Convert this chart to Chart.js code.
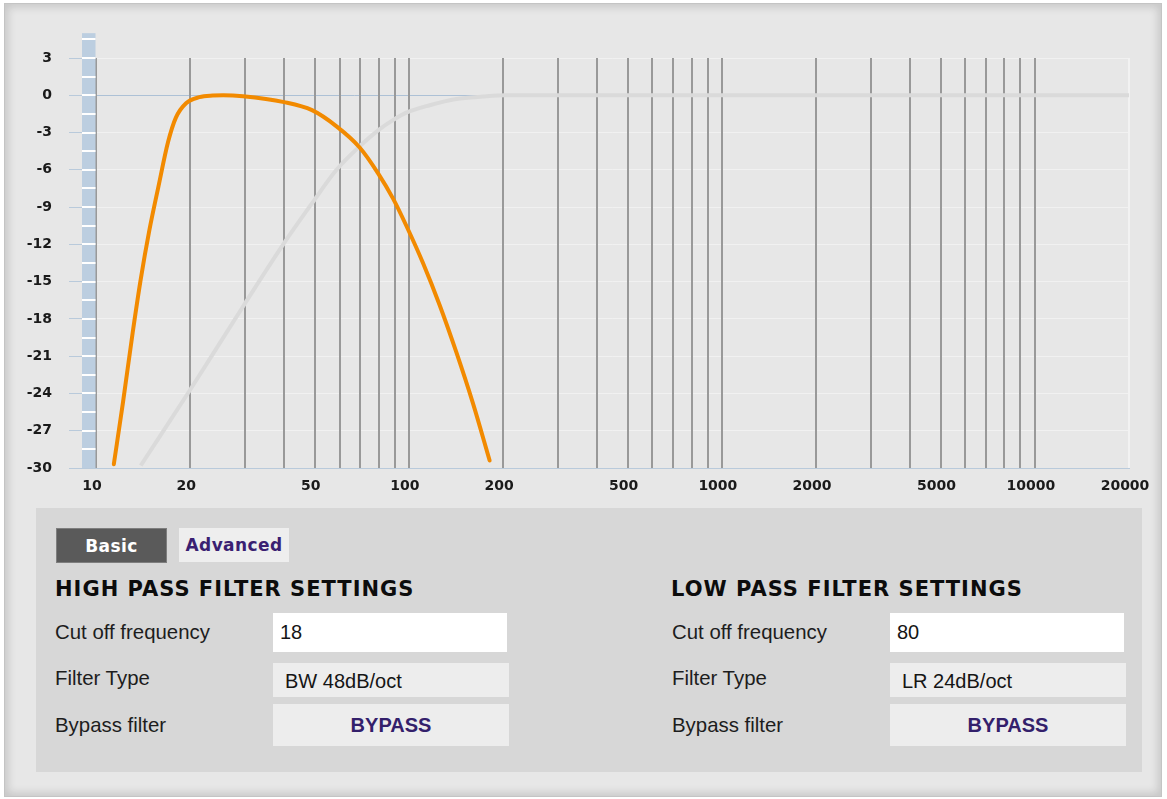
<!DOCTYPE html>
<html>
<head>
<meta charset="utf-8">
<script src="https://cdn.jsdelivr.net/npm/chart.js@4"></script>
<style>
  html, body { margin: 0; padding: 0; background: #fff; }
  body { width: 1167px; height: 799px; position: relative; overflow: hidden; font-family: "Liberation Sans", Arial, sans-serif; }
  .frame { position: absolute; left: 4px; top: 3px; width: 1158px; height: 794px; box-sizing: border-box;
           background: #e7e7e7; border: 1px solid #c4c4c4; box-shadow: inset 0 0 8px 3px rgba(0,0,0,0.14); }
  #chartBox { position: absolute; left: 0; top: 0; width: 1167px; height: 510px; }
  .panel { position: absolute; left: 36px; top: 508px; width: 1106px; height: 264px; background: #d7d7d7; }
  .tab { position: absolute; top: 20px; height: 34px; box-sizing: border-box; display: flex; align-items: center; justify-content: center;
         font: bold 17px "DejaVu Sans", sans-serif; letter-spacing: 0.4px; }
  .tab.on { left: 20px; width: 111px; height: 35px; background: #5a5a5a; border: 1px solid #7e7e7e; color: #fff; }
  .tab.off { left: 143px; width: 110px; background: #eeeeee; color: #3a1f72; }
  .head { position: absolute; top: 69px; font: bold 21px "DejaVu Sans", sans-serif; line-height: 24px; letter-spacing: 1px; color: #0c0c0c; white-space: nowrap; }
  .lbl { position: absolute; display: flex; align-items: center; font-size: 20.4px; color: #1d1d1d; white-space: nowrap; }
  .box { position: absolute; display: flex; align-items: center; box-sizing: border-box; font-size: 20px; color: #151515; }
  .inp { background: #fff; padding-left: 7px; height: 39px; width: 234px; top: 105px; }
  .sel { background: #ededed; padding-left: 12px; height: 34px; width: 236px; top: 155px; padding-top: 3px; }
  .btn { background: #ededed; justify-content: center; height: 42px; width: 236px; top: 196px; font-weight: bold; color: #33206b; }
</style>
</head>
<body>
<div class="frame"></div>
<div id="chartBox"><canvas id="eqChart" width="1167" height="510"></canvas></div>

<div class="panel">
  <div class="tab on">Basic</div>
  <div class="tab off">Advanced</div>

  <div class="head" style="left:19px">HIGH PASS FILTER SETTINGS</div>
  <div class="lbl" style="left:19px; top:105px; height:39px">Cut off frequency</div>
  <div class="lbl" style="left:19px; top:153px; height:34px">Filter Type</div>
  <div class="lbl" style="left:19px; top:196px; height:42px">Bypass filter</div>
  <div class="box inp" style="left:237px">18</div>
  <div class="box sel" style="left:237px">BW 48dB/oct</div>
  <div class="box btn" style="left:237px">BYPASS</div>

  <div class="head" style="left:635px">LOW PASS FILTER SETTINGS</div>
  <div class="lbl" style="left:636px; top:105px; height:39px">Cut off frequency</div>
  <div class="lbl" style="left:636px; top:153px; height:34px">Filter Type</div>
  <div class="lbl" style="left:636px; top:196px; height:42px">Bypass filter</div>
  <div class="box inp" style="left:854px">80</div>
  <div class="box sel" style="left:854px">LR 24dB/oct</div>
  <div class="box btn" style="left:854px">BYPASS</div>
</div>

<script>
// response curves (Hz / dB)
const responseHz = [11.4, 12.2, 13.1, 13.9, 14.8, 15.8, 17.0, 18.0, 19.4, 21.4, 23.6, 25.5, 29.5, 39.9, 49.0, 58.7, 69.6, 79.8, 88.9, 98.1, 110.9, 125.4, 141.8, 160.2, 181.1];
const responseDb = [-29.7, -24.7, -19.1, -14.8, -10.9, -7.45, -3.75, -1.8, -0.64, -0.15, -0.02, 0, -0.08, -0.55, -1.2, -2.5, -4.2, -6.3, -8.3, -10.5, -13.5, -16.9, -20.7, -24.8, -29.4];

const shadowHz = [13.9, 20.0, 29.5, 39.9, 49.0, 58.7, 69.6, 79.9, 88.9, 98.1, 116.5, 141.8, 172.5, 203, 500, 2000, 20000];
const shadowDb = [-29.8, -23.7, -17.0, -11.9, -8.7, -6.0, -4.1, -2.8, -2.0, -1.4, -0.8, -0.3, -0.1, 0, 0, 0, 0];

// axis
const gridFreqs = [10, 20, 30, 40, 50, 60, 70, 80, 90, 100, 200, 300, 400, 500, 600, 700, 800, 900,
                   1000, 2000, 3000, 4000, 5000, 6000, 7000, 8000, 9000, 10000, 20000];
const freqLabels = [10, 20, 50, 100, 200, 500, 1000, 2000, 5000, 10000, 20000];
const dbTicks = [3, 0, -3, -6, -9, -12, -15, -18, -21, -24, -27, -30];
const stripTopDb = 5;

const toPoints = (xs, ys) => xs.map((x, i) => ({ x: x, y: ys[i] }));

// blue level strip left of the plot
const dbStrip = {
  id: 'dbStrip',
  beforeDatasetsDraw(chart) {
    const { ctx, chartArea, scales } = chart;
    const y = scales.y;
    const top = y.getPixelForValue(stripTopDb);
    const x0 = chartArea.left - 14;
    ctx.save();
    ctx.fillStyle = '#bccee0';
    ctx.fillRect(x0, top, 13.5, chartArea.bottom - top);
    ctx.strokeStyle = '#ffffff';
    ctx.lineWidth = 2;
    for (let v = stripTopDb - 0.5; v > y.min; v -= 1.5) {
      const py = Math.round(y.getPixelForValue(v));
      ctx.beginPath();
      ctx.moveTo(x0, py);
      ctx.lineTo(x0 + 13.5, py);
      ctx.stroke();
    }
    ctx.restore();
  }
};

Chart.defaults.font.family = '"DejaVu Sans", sans-serif';
Chart.defaults.color = '#1a1a1a';

new Chart(document.getElementById('eqChart'), {
  type: 'line',
  data: {
    datasets: [
      {
        data: toPoints(responseHz, responseDb),
        borderColor: '#f28a00',
        borderWidth: 4,
        borderCapStyle: 'round',
        pointRadius: 0,
        cubicInterpolationMode: 'monotone',
        fill: false
      },
      {
        data: toPoints(shadowHz, shadowDb),
        borderColor: '#dadada',
        borderWidth: 4,
        pointRadius: 0,
        cubicInterpolationMode: 'monotone',
        fill: false
      }
    ]
  },
  options: {
    responsive: false,
    animation: false,
    layout: { padding: { top: 58, right: 38, bottom: 0, left: 0 } },
    plugins: { legend: { display: false }, tooltip: { enabled: false } },
    scales: {
      x: {
        type: 'logarithmic',
        min: 10,
        max: 20000,
        afterBuildTicks: s => { s.ticks = gridFreqs.map(v => ({ value: v })); },
        afterFit: s => { s.height = 42; },
        grid: {
          drawTicks: false,
          lineWidth: 2,
          color: c => (c.tick && c.tick.value === 20000) ? '#f2f2f2' : '#999999'
        },
        border: { display: true, color: '#b9cadb', width: 1 },
        ticks: {
          autoSkip: false,
          maxRotation: 0,
          padding: 10,
          labelOffset: -4,
          font: { size: 14, weight: 'bold' },
          callback: v => freqLabels.includes(v) ? String(v) : ''
        }
      },
      y: {
        min: -30,
        max: 3,
        afterBuildTicks: s => { s.ticks = dbTicks.map(v => ({ value: v })); },
        afterFit: s => { s.width = 96; },
        grid: {
          z: -2,
          tickLength: 27,
          tickColor: '#b9cadb',
          color: c => (c.tick && (c.tick.value === 0 || c.tick.value === -30)) ? '#adc1d6' : '#f1f1f1'
        },
        border: { display: false },
        ticks: {
          padding: 17,
          font: { size: 14, weight: 'bold' }
        }
      }
    }
  },
  plugins: [dbStrip]
});
</script>
</body>
</html>
